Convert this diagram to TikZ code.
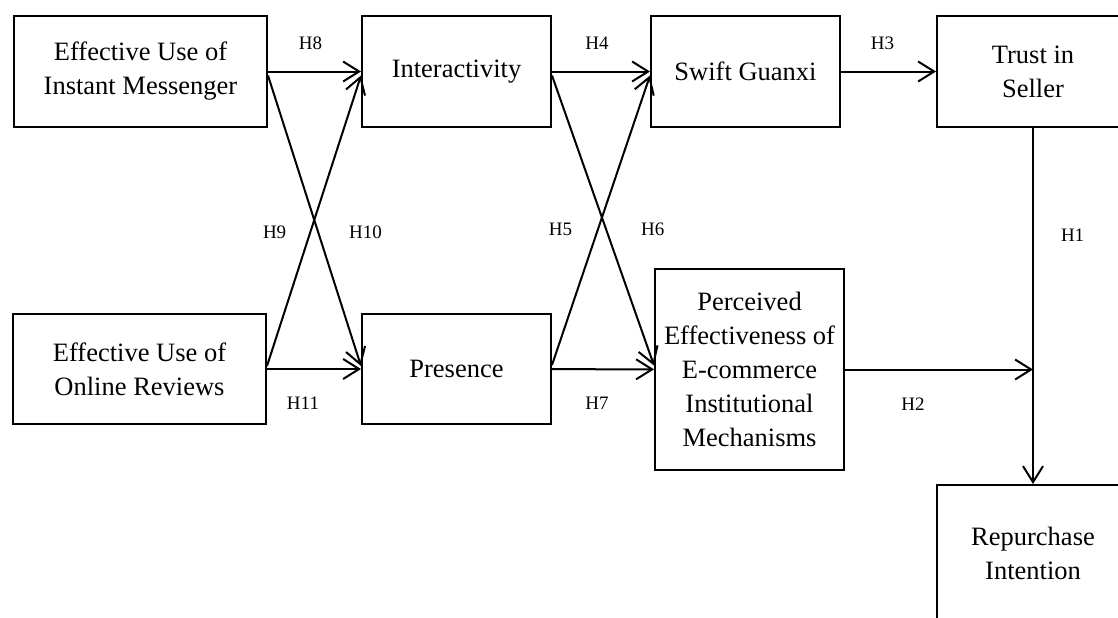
\documentclass[tikz,border=0pt]{standalone}
\usepackage{fontspec}
\setmainfont{Liberation Serif}
\usetikzlibrary{arrows.meta}

\begin{document}
\begin{tikzpicture}[x=0.5pt, y=-0.5pt, line width=1pt, ->, >={Straight Barb[length=8pt,width=10pt]},
	box/.style={draw, rectangle, inner sep=0pt, align=center, minimum height=55.5pt, font=\fontsize{13.25pt}{17pt}\selectfont},
	hyp/.style={inner sep=0pt, font=\fontsize{9.5pt}{11pt}\selectfont}]
	\useasboundingbox (0,0) rectangle (1118,617);
	\node[box, minimum width=126.5pt] (IM) at (140.5,71.5) {Effective Use of\\Instant Messenger};
	\node[box, minimum width=94.5pt] (INT) at (456.5,71.5) {Interactivity};
	\node[box, minimum width=94.5pt] (SG) at (745.5,71.5) {Swift Guanxi};
	\node[box, minimum width=96pt] (TS) at (1033,71.5) {Trust in\\Seller};
	\node[box, minimum width=126.5pt, minimum height=55pt] (OR) at (139.5,369) {Effective Use of\\Online Reviews};
	\node[box, minimum width=94.5pt, minimum height=55pt] (PR) at (456.5,369) {Presence};
	\node[box, minimum width=94.5pt, minimum height=100.5pt] (EM) at (749.5,369.5) {Perceived\\Effectiveness of\\E-commerce\\Institutional\\Mechanisms};
	\node[box, minimum width=96pt, minimum height=68pt] (RI) at (1033,553) {Repurchase\\Intention};
	\coordinate (J) at (TS.south |- EM.east);
	\draw (IM) to node[hyp, above=10.5pt, xshift=-2pt] {H8} (INT);
	\draw ([yshift=1.5pt]OR.east) to node[hyp, pos=0.46, left=11.5pt] {H9} ([yshift=-2pt]INT.west);
	\draw ([yshift=-2pt]IM.east) to node[hyp, pos=0.54, right=15pt] {H10} ([yshift=1.5pt]PR.west);
	\draw (OR) to node[hyp, below=13.5pt, xshift=-5.5pt] {H11} (PR);
	\draw (INT) to node[hyp, above=10.5pt, xshift=-2pt] {H4} (SG);
	\draw ([yshift=2pt]PR.east) to node[hyp, pos=0.47, left=12.5pt] {H5} ([yshift=-2pt]SG.west);
	\draw ([yshift=-2pt]INT.east) to node[hyp, pos=0.53, right=17pt] {H6} ([yshift=2pt]EM.west);
	\draw (PR) to node[hyp, below=13.5pt, xshift=-3pt] {H7} (EM);
	\draw (SG) to node[hyp, above=10.5pt, xshift=-3pt] {H3} (TS);
	\draw (TS) to node[hyp, pos=0.3, right=13.5pt] {H1} (RI);
	\draw (EM) to node[hyp, below=13.5pt, xshift=-13pt] {H2} (J);
\end{tikzpicture}
\end{document}
